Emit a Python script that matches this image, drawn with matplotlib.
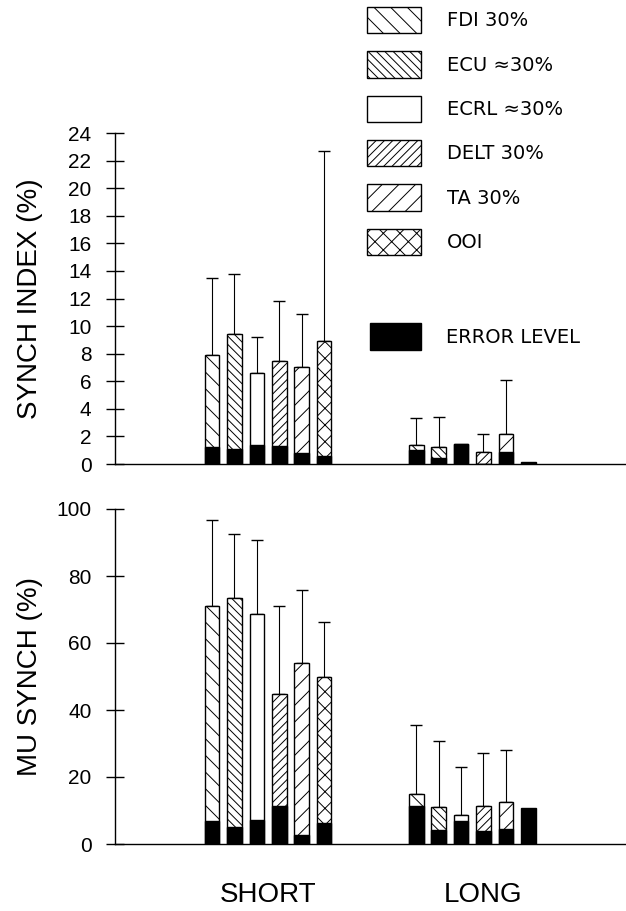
import numpy as np
import matplotlib
matplotlib.use('Agg')
import matplotlib.pyplot as plt
from matplotlib.patches import Patch

plt.rcParams['font.family'] = ['Liberation Sans', 'DejaVu Sans']
plt.rcParams['hatch.linewidth'] = 0.7

# legend labels and fill patterns
muscles = ['FDI 30%', 'ECU \u224830%', 'ECRL \u224830%', 'DELT 30%', 'TA 30%', 'OOI']
hatches = ['\\\\', '\\\\\\\\', '', '////', '//', 'xx']

# synch index (%), short and long
synch_short = [7.9, 9.4, 6.6, 7.5, 7.0, 8.9]
synch_short_top = [13.5, 13.8, 9.2, 11.8, 10.85, 22.7]
synch_short_err = [1.25, 1.1, 1.4, 1.3, 0.8, 0.6]
synch_long = [1.37, 1.23, 1.42, 0.84, 2.15, 0.0]
synch_long_top = [3.3, 3.42, np.nan, 2.15, 6.07, np.nan]
synch_long_err = [1.0, 0.46, 1.42, 0.0, 0.9, 0.17]

# MU synch (%), short and long
mu_short = [70.9, 73.3, 68.7, 44.9, 53.9, 49.8]
mu_short_top = [96.8, 92.6, 90.6, 71.1, 75.8, 66.4]
mu_short_err = [7.0, 5.0, 7.2, 11.4, 2.6, 6.4]
mu_long = [15.0, 11.0, 8.7, 11.35, 12.6, 0.0]
mu_long_top = [35.6, 30.6, 23.1, 27.1, 28.1, np.nan]
mu_long_err = [11.4, 4.2, 6.9, 3.9, 4.4, 10.7]

groups = ['SHORT', 'LONG']

W, H = 626, 911
fig = plt.figure(figsize=(W / 100, H / 100), dpi=100)

ax1 = fig.add_axes([115 / W, 1 - 464 / H, 1 - 115 / W, (464 - 133) / H])
ax2 = fig.add_axes([115 / W, 1 - 844 / H, 1 - 115 / W, (844 - 509) / H])

short_x = np.arange(6) + 4.33
long_x = np.arange(6) + 13.44
bw = 0.65


def draw_group(ax, xs, vals, tops, errs):
    vals = np.array(vals, dtype=float)
    tops = np.array(tops, dtype=float)
    for x, v, h in zip(xs, vals, hatches):
        if v > 0:
            ax.bar(x, v, width=bw, facecolor='white', edgecolor='black',
                   linewidth=1.0, hatch=h, zorder=2)
    ax.bar(xs, errs, width=bw, color='black', edgecolor='black',
           linewidth=1.0, zorder=3)
    # upper error bars only
    ok = ~np.isnan(tops)
    up = tops[ok] - vals[ok]
    ax.errorbar(xs[ok], vals[ok], yerr=[np.zeros(ok.sum()), up], fmt='none',
                ecolor='black', elinewidth=0.8, capsize=4.3, capthick=1.0,
                zorder=1)


draw_group(ax1, short_x, synch_short, synch_short_top, synch_short_err)
draw_group(ax1, long_x, synch_long, synch_long_top, synch_long_err)
draw_group(ax2, short_x, mu_short, mu_short_top, mu_short_err)
draw_group(ax2, long_x, mu_long, mu_long_top, mu_long_err)

for ax, top, step, lab in [(ax1, 24, 2, 'SYNCH INDEX (%)'),
                           (ax2, 100, 20, 'MU SYNCH (%)')]:
    ax.set_xlim(0, 22.8)
    ax.set_ylim(0, top)
    ax.set_yticks(np.arange(0, top + 1, step))
    ax.tick_params(axis='y', direction='inout', length=13, width=1.0,
                   labelsize=15, pad=10.5)
    ax.spines['top'].set_visible(False)
    ax.spines['right'].set_visible(False)
    ax.spines['left'].set_linewidth(1.0)
    ax.spines['bottom'].set_linewidth(1.0)
    ax.patch.set_alpha(0)
    ax.set_ylabel(lab, fontsize=20)
    ax.yaxis.set_label_coords(-72 / 511, 0.5)

ax1.set_xticks([])
ax2.set_xticks([short_x.mean(), long_x.mean() + 0.5])
ax2.set_xticklabels(groups, fontsize=20)
ax2.tick_params(axis='x', length=0, pad=27)

handles = [Patch(facecolor='white', edgecolor='black', hatch=h, linewidth=1.0)
           for h in hatches]
fig.legend(handles, muscles, loc='upper left',
           bbox_to_anchor=(367 / W, 1 - 7 / H), frameon=False,
           borderpad=0, borderaxespad=0, handlelength=2.78,
           handleheight=1.7, labelspacing=0.93, handletextpad=1.34,
           prop={'family': 'DejaVu Sans', 'size': 14})
fig.legend([Patch(facecolor='black', edgecolor='black')], ['ERROR LEVEL'],
           loc='upper left', bbox_to_anchor=(370 / W, 1 - 323 / H),
           frameon=False, borderpad=0, borderaxespad=0,
           handlelength=2.6, handleheight=1.75, handletextpad=1.3,
           prop={'family': 'DejaVu Sans', 'size': 14})

fig.savefig('out.png', dpi=100)
